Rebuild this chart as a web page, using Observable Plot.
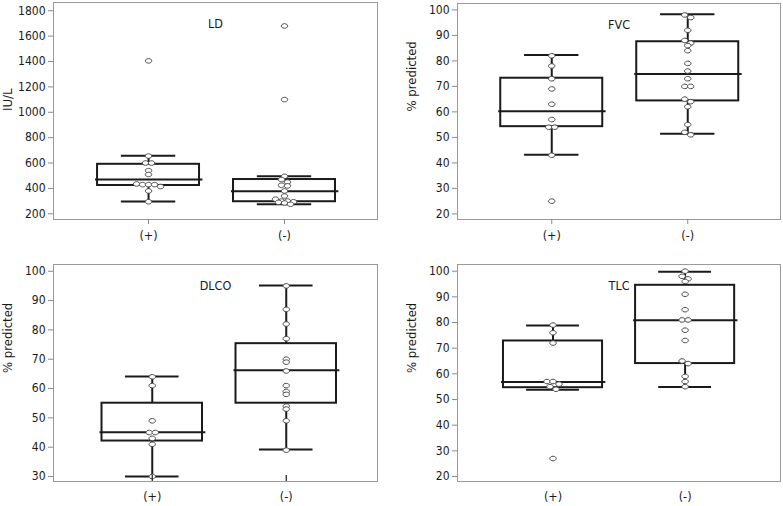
<!DOCTYPE html>
<html>
<head>
<meta charset="utf-8">
<script src="https://cdn.jsdelivr.net/npm/d3@7"></script>
<script src="https://cdn.jsdelivr.net/npm/@observablehq/plot@0.6"></script>
<style>
  html, body { margin: 0; padding: 0; background: white; }
  #wrap { position: relative; width: 783px; height: 506px; overflow: hidden; background: white; }
  .panel { position: absolute; }
  .panel svg { display: block; }
</style>
</head>
<body>
<div id="wrap"></div>
<script>
// ---- data ----
const groups = ["(+)", "(-)"];
const titles = ["LD", "FVC", "DLCO", "TLC"];
const yLabels = ["IU/L", "% predicted", "% predicted", "% predicted"];

const ldPos = [1405, 655, 600, 600, 540, 510, 435, 430, 430, 430, 415, 380, 295];
const ldNeg = [1680, 1100, 495, 470, 450, 425, 420, 380, 340, 315, 300, 300, 295, 290, 285, 275];
const fvcPos = [82, 78, 73, 69, 63, 57, 54, 54, 43, 25];
const fvcNeg = [98, 97, 92, 88, 87, 86, 84, 79, 76, 73, 70, 70, 65, 64, 62, 55, 52, 51];
const dlcoPos = [64, 61, 49, 45, 45, 43, 41, 30];
const dlcoNeg = [95, 87, 82, 77, 70, 69, 66, 61, 59, 58, 54, 53, 49, 39];
const tlcPos = [79, 76, 72, 57, 57, 56, 55, 54, 27];
const tlcNeg = [100, 98, 97, 96, 91, 85, 81, 81, 77, 73, 65, 64, 59, 57, 55];

// box statistics [lower whisker, Q1, median, Q3, upper whisker] for (+), (-)
const ldStats = [[297, 423, 470, 590, 657], [276, 295, 378, 470, 496]];
const fvcStats = [[43.2, 54.2, 60.2, 73.2, 82.3], [51.4, 64.3, 74.9, 87.5, 98.3]];
const dlcoStats = [[30, 42.1, 45.1, 55, 64.1], [39.2, 55, 66.2, 75.3, 95.1]];
const tlcStats = [[53.8, 54.6, 56.8, 72.8, 78.8], [54.9, 64, 80.9, 94.5, 99.8]];

const ldTicks = [200, 400, 600, 800, 1000, 1200, 1400, 1600, 1800];
const fvcTicks = [20, 30, 40, 50, 60, 70, 80, 90, 100];
const dlcoTicks = [30, 40, 50, 60, 70, 80, 90, 100];
const tlcTicks = [20, 30, 40, 50, 60, 70, 80, 90, 100];

// ---- layout ----
const FONT = '"Liberation Sans Narrow", "DejaVu Sans Condensed", "Arial Narrow", sans-serif';
const INK = "#1a1a1a";

const ellipse = {
  draw(context, size) {
    const r = Math.sqrt(size / Math.PI);
    const rx = r * 1.15, ry = r * 0.82, k = 0.5523;
    context.moveTo(rx, 0);
    context.bezierCurveTo(rx, ry * k, rx * k, ry, 0, ry);
    context.bezierCurveTo(-rx * k, ry, -rx, ry * k, -rx, 0);
    context.bezierCurveTo(-rx, -ry * k, -rx * k, -ry, 0, -ry);
    context.bezierCurveTo(rx * k, -ry, rx, -ry * k, rx, 0);
    context.closePath();
  }
};

const panels = [
  {left: 0, top: 0, width: 390, height: 250, ml: 53, mr: 13, mt: 2, mb: 31,
   xDomain: [-0.699, 1.684], yDomain: [155, 1865], ticks: ldTicks, pos: ldPos, neg: ldNeg, stats: ldStats,
   title: titles[0], ylabel: yLabels[0], xTickSize: 5, xTickPad: 7, inner: false},
  {left: 390, top: 0, width: 393, height: 250, ml: 67, mr: 3, mt: 3, mb: 31,
   xDomain: [-0.693, 1.682], yDomain: [17.8, 102.5], ticks: fvcTicks, pos: fvcPos, neg: fvcNeg, stats: fvcStats,
   title: titles[1], ylabel: yLabels[1], xTickSize: 5, xTickPad: 7, inner: false},
  {left: 0, top: 250, width: 390, height: 256, ml: 53, mr: 13, mt: 14, mb: 25,
   xDomain: [-0.737, 1.681], yDomain: [28.3, 102.3], ticks: dlcoTicks, pos: dlcoPos, neg: dlcoNeg, stats: dlcoStats,
   title: titles[2], ylabel: yLabels[2], xTickSize: 0, xTickPad: 11, inner: true},
  {left: 390, top: 250, width: 393, height: 256, ml: 67, mr: 3, mt: 14, mb: 25,
   xDomain: [-0.723, 1.722], yDomain: [18.05, 102.6], ticks: tlcTicks, pos: tlcPos, neg: tlcNeg, stats: tlcStats,
   title: titles[3], ylabel: yLabels[3], xTickSize: 0, xTickPad: 11, inner: false}
];

function makePanel(c) {
  const plotW = c.width - c.ml - c.mr, plotH = c.height - c.mt - c.mb;
  const pxX = plotW / (c.xDomain[1] - c.xDomain[0]);
  const pxY = plotH / (c.yDomain[1] - c.yDomain[0]);
  const pts = [];
  [c.pos, c.neg].forEach((vals, i) => {
    const sorted = vals.slice().sort((a, b) => b - a);
    let row = [];
    const flush = () => {
      row.forEach((v, k) => pts.push({x: i + (k - (row.length - 1) / 2) * 6 / pxX, v}));
      row = [];
    };
    sorted.forEach(v => {
      if (row.length && (row[0] - v) * pxY > 2.8) flush();
      row.push(v);
    });
    flush();
  });
  const boxes = c.stats.map((s, i) => ({i, lo: s[0], q1: s[1], med: s[2], q3: s[3], hi: s[4]}));
  const marks = [
    Plot.frame({stroke: "#9a9a9a"}),
    Plot.axisY(c.ticks, {tickSize: 5, tickPadding: 3, tickFormat: d => String(d), stroke: "#8a8a8a", fill: INK, label: null, fontSize: 12}),
    Plot.axisX([0, 1], {tickFormat: d => groups[d], tickSize: c.xTickSize, tickPadding: c.xTickPad,
      stroke: "#8a8a8a", fill: INK, label: null, fontSize: 12.5}),
    Plot.text([c.title], {frameAnchor: "top", dy: 17, text: d => d, fontSize: 12.5, fill: INK}),
    Plot.text([c.ylabel], {frameAnchor: "left", dx: -45.5, rotate: -90, text: d => d, fontSize: 13, fill: INK}),
    Plot.ruleX(boxes, {x: "i", y1: "lo", y2: "q1", stroke: INK, strokeWidth: 2}),
    Plot.ruleX(boxes, {x: "i", y1: "q3", y2: "hi", stroke: INK, strokeWidth: 2}),
    Plot.rect(boxes, {x1: d => d.i - 0.375, x2: d => d.i + 0.375, y1: "q1", y2: "q3", fill: "none", stroke: INK, strokeWidth: 2}),
    Plot.ruleY(boxes, {y: "med", x1: d => d.i - 0.39, x2: d => d.i + 0.40, stroke: INK, strokeWidth: 2}),
    Plot.ruleY(boxes, {y: "lo", x1: d => d.i - 0.2, x2: d => d.i + 0.2, stroke: INK, strokeWidth: 2}),
    Plot.ruleY(boxes, {y: "hi", x1: d => d.i - 0.2, x2: d => d.i + 0.2, stroke: INK, strokeWidth: 2}),
    Plot.dot(pts, {x: "x", y: "v", r: 2.8, symbol: ellipse, fill: "white", stroke: "#4a4a4a", strokeWidth: 1})
  ];
  if (c.inner) {
    marks.push(Plot.ruleX([0, 1], {x: d => d, y1: () => c.yDomain[0], y2: () => c.yDomain[0], insetTop: -6, stroke: INK, strokeWidth: 1.2}));
  }
  return Plot.plot({
    width: c.width, height: c.height,
    marginLeft: c.ml, marginRight: c.mr, marginTop: c.mt, marginBottom: c.mb,
    x: {domain: c.xDomain},
    y: {domain: c.yDomain},
    style: {fontFamily: FONT, fontSize: "12px", color: INK, background: "white", overflow: "visible"},
    marks
  });
}

const wrap = document.getElementById("wrap");
panels.forEach(c => {
  const div = document.createElement("div");
  div.className = "panel";
  div.style.left = c.left + "px";
  div.style.top = c.top + "px";
  div.appendChild(makePanel(c));
  wrap.appendChild(div);
});
</script>
</body>
</html>
